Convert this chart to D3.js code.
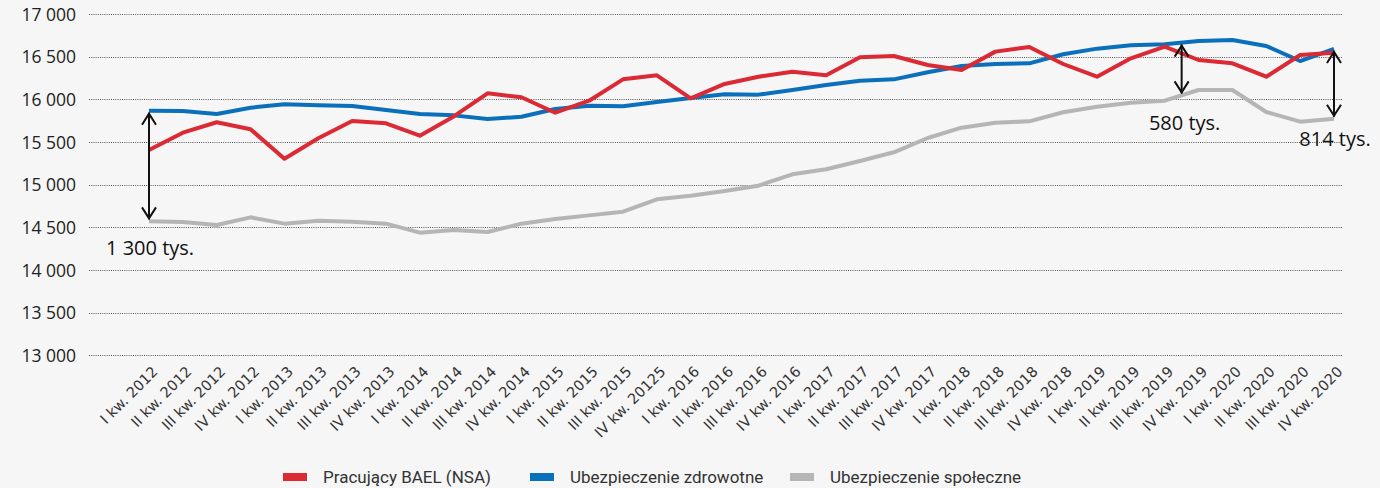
<!DOCTYPE html>
<html>
<head>
<meta charset="utf-8">
<script src="https://cdn.jsdelivr.net/npm/d3@7"></script>
<style>
  html, body { margin: 0; padding: 0; background: #f6f6f6; }
  svg { display: block; }
</style>
</head>
<body>
<svg id="chart" width="1380" height="488"></svg>
<script>
const categories = [
  "I kw. 2012","II kw. 2012","III kw. 2012","IV kw. 2012",
  "I kw. 2013","II kw. 2013","III kw. 2013","IV kw. 2013",
  "I kw. 2014","II kw. 2014","III kw. 2014","IV kw. 2014",
  "I kw. 2015","II kw. 2015","III kw. 2015","IV kw. 20125",
  "I kw. 2016","II kw. 2016","III kw. 2016","IV kw. 2016",
  "I kw. 2017","II kw. 2017","III kw. 2017","IV kw. 2017",
  "I kw. 2018","II kw. 2018","III kw. 2018","IV kw. 2018",
  "I kw. 2019","II kw. 2019","III kw. 2019","IV kw. 2019",
  "I kw. 2020","II kw. 2020","III kw. 2020","IV kw. 2020"
];
const pracujacyBAEL = [
  15406,15609,15731,15649,15304,15543,15746,15719,
  15574,15800,16070,16024,15843,15984,16234,16281,
  16012,16180,16265,16324,16281,16492,16508,16402,
  16344,16559,16614,16414,16265,16481,16617,16461,
  16422,16265,16519,16547
];
const ubezpieczenieZdrowotne = [
  15867,15862,15828,15902,15941,15930,15922,15875,
  15828,15812,15769,15796,15887,15925,15918,15969,
  16016,16059,16055,16109,16168,16218,16234,16317,
  16391,16414,16422,16528,16594,16633,16645,16684,
  16695,16625,16449,16590
];
const ubezpieczenieSpoleczne = [
  14570,14562,14527,14617,14543,14578,14566,14543,
  14437,14468,14445,14543,14597,14640,14683,14828,
  14871,14926,14988,15121,15180,15277,15379,15547,
  15668,15726,15742,15848,15914,15961,15984,16109,
  16109,15852,15738,15773
];
const yTicks = [13000,13500,14000,14500,15000,15500,16000,16500,17000];
const seriesNames = ["Pracujący BAEL (NSA)","Ubezpieczenie zdrowotne","Ubezpieczenie społeczne"];
const annotationIndex = [0, 30.5, 35];
const annotationLabels = ["1 300 tys.","580 tys.","814 tys."];

const colors = ["#dc2a35","#0a70bb","#b5b5b5"];
const allSeries = [pracujacyBAEL, ubezpieczenieZdrowotne, ubezpieczenieSpoleczne];

const svg = d3.select("#chart");
svg.append("rect").attr("width",1380).attr("height",488).attr("fill","#f6f6f6");

const x = d3.scalePoint().domain(categories).range([149, 1334]);
const xi = d3.scaleLinear().domain([0, categories.length-1]).range([149, 1334]);
const y = d3.scaleLinear().domain([13000,17000]).range([355.3, 14]);

// grid
const grid = svg.append("g");
grid.selectAll("line").data(yTicks).enter().append("line")
  .attr("x1", 89).attr("x2", 1342)
  .attr("y1", d => Math.round(y(d))+0.5).attr("y2", d => Math.round(y(d))+0.5)
  .attr("stroke", "#555").attr("stroke-width", 1).attr("stroke-dasharray", "1,1.2");

// y axis labels via d3 axis
const yAxis = d3.axisLeft(y).tickValues(yTicks).tickSize(0).tickPadding(0)
  .tickFormat(d => d3.format(",")(d).replace(/,/g, " "));
const ya = svg.append("g").attr("transform","translate(76,0)").call(yAxis);
ya.select(".domain").remove();
ya.selectAll("text").attr("font-family","'Open Sans', sans-serif").attr("font-size", 17.5)
  .attr("fill","#222").attr("dy","0.35em");

// x axis labels
const xAxis = d3.axisBottom(x).tickSize(0).tickPadding(0);
const xa = svg.append("g").call(xAxis);
xa.select(".domain").remove();
xa.selectAll(".tick").attr("transform", d => `translate(${x(d)+6},369)`);
xa.selectAll("text")
  .attr("font-family","'DejaVu Sans', sans-serif").attr("font-size", 14.5)
  .attr("fill","#333")
  .attr("text-anchor","end").attr("x",0).attr("y",0).attr("dy","0.35em")
  .attr("transform","rotate(-45)");

// lines
const line = d3.line().x((d,i) => x(categories[i])).y(d => y(d)).curve(d3.curveLinear);
const order = [2,1,0];
svg.append("g").selectAll("path").data(order).enter().append("path")
  .attr("d", k => line(allSeries[k]))
  .attr("fill","none").attr("stroke", k => colors[k])
  .attr("stroke-width", 4).attr("stroke-linejoin","round");

// annotations
function interp(arr, t) {
  const i0 = Math.floor(t), i1 = Math.ceil(t);
  return arr[i0] + (arr[i1]-arr[i0])*(t-i0);
}
const labelOffsets = [[-43, 36, "start"], [3, 37, "middle"], [1, 29, "middle"]];
const ann = svg.append("g");
annotationIndex.forEach((t, k) => {
  const ax = xi(t);
  const top = y(interp(ubezpieczenieZdrowotne, t)) + 2;
  const bot = y(interp(ubezpieczenieSpoleczne, t)) - 2;
  ann.append("line").attr("x1",ax).attr("x2",ax).attr("y1",top).attr("y2",bot)
    .attr("stroke","#111").attr("stroke-width",2);
  ann.append("path").attr("d",`M${ax-7},${top+12}L${ax},${top+1}L${ax+7},${top+12}`)
    .attr("fill","none").attr("stroke","#111").attr("stroke-width",2);
  ann.append("path").attr("d",`M${ax-7},${bot-12}L${ax},${bot-1}L${ax+7},${bot-12}`)
    .attr("fill","none").attr("stroke","#111").attr("stroke-width",2);
  const o = labelOffsets[k];
  ann.append("text").attr("x", ax + o[0]).attr("y", bot + o[1])
    .attr("text-anchor", o[2])
    .attr("font-family","'Open Sans', sans-serif").attr("font-size",20)
    .attr("fill","#111").text(annotationLabels[k]);
});

// legend
const legendX = [283, 530, 790];
const lg = svg.append("g");
seriesNames.forEach((n, k) => {
  lg.append("rect").attr("x", legendX[k]).attr("y", 473).attr("width", 24).attr("height", 8)
    .attr("fill", colors[k]);
  lg.append("text").attr("x", legendX[k] + 40).attr("y", 483)
    .attr("font-family","Roboto, sans-serif").attr("font-size", 17)
    .attr("fill","#333").text(n);
});
</script>
</body>
</html>
